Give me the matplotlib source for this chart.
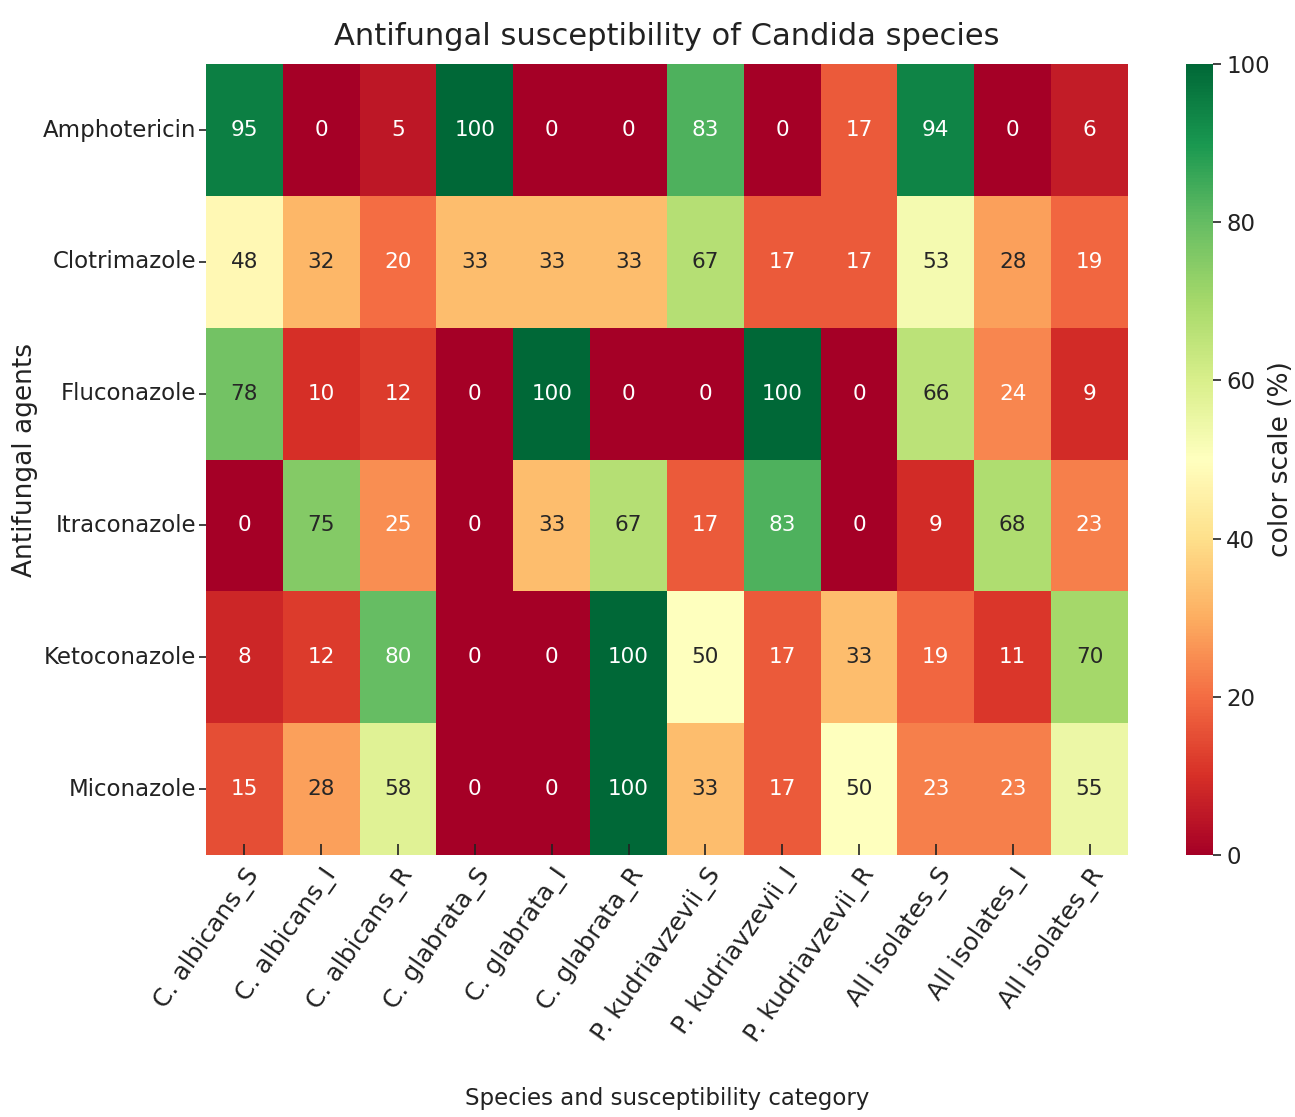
import numpy as np
import matplotlib
matplotlib.use("Agg")
import matplotlib.pyplot as plt
import seaborn as sns

agents = ["Amphotericin", "Clotrimazole", "Fluconazole", "Itraconazole",
          "Ketoconazole", "Miconazole"]
categories = ["C. albicans_S", "C. albicans_I", "C. albicans_R",
              "C. glabrata_S", "C. glabrata_I", "C. glabrata_R",
              "P. kudriavzevii_S", "P. kudriavzevii_I", "P. kudriavzevii_R",
              "All isolates_S", "All isolates_I", "All isolates_R"]

amphotericin = [95, 0, 5, 100, 0, 0, 83, 0, 17, 94, 0, 6]
clotrimazole = [48, 32, 20, 33, 33, 33, 67, 17, 17, 53, 28, 19]
fluconazole = [78, 10, 12, 0, 100, 0, 0, 100, 0, 66, 24, 9]
itraconazole = [0, 75, 25, 0, 33, 67, 17, 83, 0, 9, 68, 23]
ketoconazole = [8, 12, 80, 0, 0, 100, 50, 17, 33, 19, 11, 70]
miconazole = [15, 28, 58, 0, 0, 100, 33, 17, 50, 23, 23, 55]

data = np.array([amphotericin, clotrimazole, fluconazole, itraconazole,
                 ketoconazole, miconazole])

plt.rcParams['font.family'] = ['DejaVu Sans']
dark = "#222222"

fig = plt.figure(figsize=(12.95, 11.17), dpi=100)
ax = fig.add_axes([0.159, 0.2346, 0.712, 0.708])
cax = fig.add_axes([0.9158, 0.2346, 0.0209, 0.708])

sns.heatmap(data, ax=ax, cbar_ax=cax, cmap="RdYlGn", vmin=0, vmax=100,
            annot=True, fmt="d", annot_kws={"fontsize": 15.5},
            xticklabels=categories, yticklabels=agents)

ax.set_title("Antifungal susceptibility of Candida species", fontsize=22,
             color=dark, pad=14)

ax.set_xlabel("Species and susceptibility category", fontsize=16.5,
              color=dark)
ax.xaxis.set_label_coords(0.5, -0.293)

ax.set_ylabel("Antifungal agents", fontsize=19, color=dark)
ax.yaxis.set_label_coords(-0.196, 0.5)
ax.yaxis.label.set_va('center')

ax.tick_params(axis='y', labelsize=16.5, length=5, width=1.2, rotation=0,
               colors=dark, pad=2)
ax.tick_params(axis='x', labelsize=18, length=8, width=1.2,
               direction='in', colors=dark, pad=6)
plt.setp(ax.get_xticklabels(), rotation=55, ha='right', rotation_mode='anchor')

cax.set_yticks([0, 20, 40, 60, 80, 100])
cax.tick_params(labelsize=16.5, length=6, width=1.2, colors=dark)
cax.set_ylabel("color scale (%)", fontsize=19, color=dark)
cax.yaxis.set_label_coords(3.52, 0.5)
cax.yaxis.label.set_va('center')

fig.savefig("out.png", dpi=100)
